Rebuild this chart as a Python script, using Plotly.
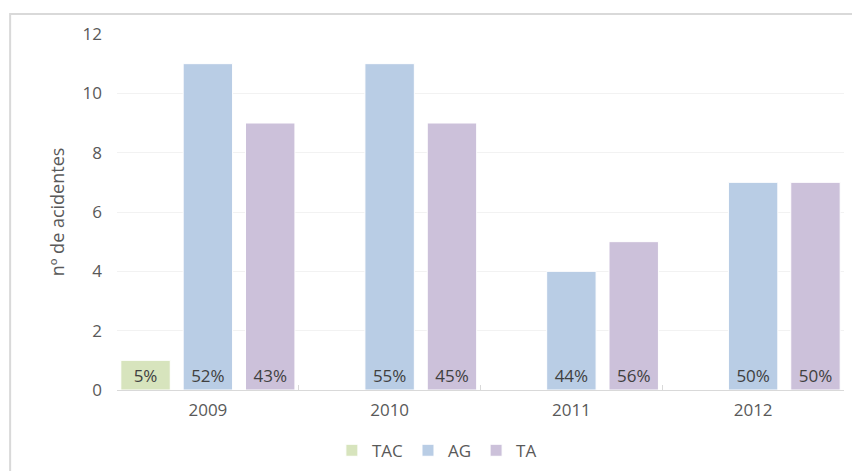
import plotly.graph_objects as go

years = ["2009", "2010", "2011", "2012"]
tac = [1, None, None, None]
ag = [11, 11, 4, 7]
ta = [9, 9, 5, 7]
tac_lbl = ["5%", "", "", ""]
ag_lbl = ["52%", "55%", "44%", "50%"]
ta_lbl = ["43%", "45%", "56%", "50%"]

FONT = "Open Sans, Lato, sans-serif"
TXT = "#595959"

BW = 0.272   # bar width in category units
SP = 0.343   # spacing between bar centres within a group

fig = go.Figure()
for i, (name, vals, lbls, col) in enumerate([("TAC", tac, tac_lbl, "#d7e4bd"),
                                             ("AG", ag, ag_lbl, "#b9cde5"),
                                             ("TA", ta, ta_lbl, "#ccc1da")]):
    fig.add_trace(go.Bar(
        x=years, y=vals, name=name, text=lbls,
        width=BW, offset=(i - 1) * SP - BW / 2,
        marker=dict(color=col, line=dict(color="white", width=1)),
        textposition="inside", insidetextanchor="start",
        textangle=0, constraintext="none",
        textfont=dict(family=FONT, size=17, color="#404040"),
    ))

fig.update_layout(
    width=860, height=471,
    margin=dict(l=109, r=24, t=26, b=89, autoexpand=False),
    paper_bgcolor="white", plot_bgcolor="white",
    barmode="overlay",
    font=dict(family=FONT, size=17, color=TXT),
    showlegend=True,
    legend=dict(orientation="h", x=0.44, xanchor="center", y=-0.12, yanchor="top",
                font=dict(family=FONT, size=17, color=TXT), itemwidth=30,
                tracegroupgap=0, traceorder="normal"),
    xaxis=dict(showline=True, linecolor="#d9d9d9", linewidth=1,
               ticks="inside", tickson="boundaries", ticklen=5, tickcolor="#d9d9d9",
               ticklabelstandoff=5,
               tickfont=dict(family=FONT, size=17, color=TXT), showgrid=False),
    yaxis=dict(range=[0, 12], dtick=2, showgrid=True, gridcolor="#f2f2f2",
               zeroline=False, showline=False, ticks="", ticklabelstandoff=14,
               tickfont=dict(family=FONT, size=17, color=TXT),
               title=dict(text="nº de acidentes", font=dict(family=FONT, size=18, color=TXT),
                          standoff=13)),
    shapes=[dict(type="rect", xref="paper", yref="paper",
                 x0=-0.147, x1=1.04, y0=-0.3, y1=1.056,
                 line=dict(color="#d9d9d9", width=2), fillcolor="rgba(0,0,0,0)",
                 layer="below")],
)

fig.write_html("out.html")
